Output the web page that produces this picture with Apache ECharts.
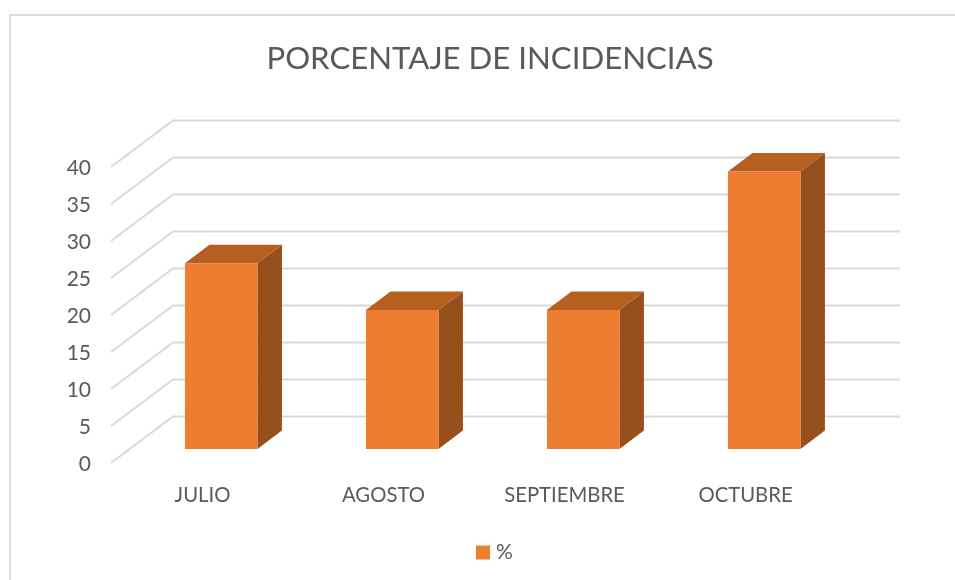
<!DOCTYPE html>
<html>
<head>
<meta charset="utf-8">
<style>
  html, body { margin: 0; padding: 0; background: #fff; }
  #chartmain { width: 955px; height: 580px; }
</style>
<script src="https://cdn.jsdelivr.net/npm/echarts@6/dist/echarts.min.js"></script>
</head>
<body>
<div id="chartmain"></div>
<script>
var categories = ['JULIO', 'AGOSTO', 'SEPTIEMBRE', 'OCTUBRE'];
var percentages = [25.1, 18.8, 18.8, 37.5];
var yTicks = [0, 5, 10, 15, 20, 25, 30, 35, 40];

// profundidad de la pared del fondo y de las barras (px)
var wallDx = 62, wallDy = -46.5;
var wallLeft = 111, wallRight = 900;
var barFrontDx = 18.7, barFrontDy = -14;
var barDepthDx = 24.5, barDepthDy = -18.5;
var barWidth = 72.5;

var textColor = '#595959';
var lineColor = '#d9d9d9';

var myChart = echarts.init(document.getElementById('chartmain'));

function renderWall(params, api) {
  var p = api.coord([0, api.value(1)]);
  return {
    type: 'polyline',
    shape: {
      points: [
        [wallLeft, p[1]],
        [wallLeft + wallDx, p[1] + wallDy],
        [wallRight, p[1] + wallDy]
      ]
    },
    style: { fill: 'none', stroke: lineColor, lineWidth: 2 },
    silent: true
  };
}

function renderBar(params, api) {
  var top = api.coord([api.value(0), api.value(1)]);
  var base = api.coord([api.value(0), 0]);
  var x0 = top[0] + barFrontDx - barWidth / 2;
  var x1 = x0 + barWidth;
  var y0 = top[1] + barFrontDy;
  var y1 = base[1] + barFrontDy;
  var dx = barDepthDx, dy = barDepthDy;
  return {
    type: 'group',
    children: [
      {
        type: 'polygon',
        shape: { points: [[x1, y0], [x1 + dx, y0 + dy], [x1 + dx, y1 + dy], [x1, y1]] },
        style: { fill: '#97501b' }
      },
      {
        type: 'polygon',
        shape: { points: [[x0, y0], [x0 + dx, y0 + dy], [x1 + dx, y0 + dy], [x1, y0]] },
        style: { fill: '#b55f21' }
      },
      {
        type: 'rect',
        shape: { x: x0, y: y0, width: barWidth, height: y1 - y0 },
        style: { fill: '#ed7d31' }
      }
    ]
  };
}

myChart.setOption({
  animation: false,
  backgroundColor: '#fff',
  title: {
    text: 'PORCENTAJE DE INCIDENCIAS',
    left: 485,
    top: 38,
    textAlign: 'center',
    textStyle: { color: textColor, fontFamily: 'Lato', fontWeight: 'normal', fontSize: 31.2 }
  },
  legend: {
    data: ['%'],
    left: 471,
    top: 537,
    itemWidth: 14,
    itemHeight: 14,
    itemGap: 6,
    icon: 'rect',
    textStyle: { color: textColor, fontFamily: 'Lato', fontSize: 21, padding: [0, 0, 0, 1] }
  },
  grid: { left: 112, right: 119, top: 167, bottom: 117 },
  xAxis: {
    type: 'category',
    data: categories,
    axisLine: { show: false },
    axisTick: { show: false },
    axisLabel: { color: textColor, fontFamily: 'Lato', fontSize: 20.3, margin: 22, interval: 0 }
  },
  yAxis: {
    type: 'value',
    min: 0,
    max: 40,
    interval: 5,
    axisLine: { show: false },
    axisTick: { show: false },
    splitLine: { show: false },
    axisLabel: {
      color: textColor,
      fontFamily: 'Lato',
      fontSize: 21,
      margin: 21,
      verticalAlign: 'top',
      lineHeight: 3
    }
  },
  graphic: [
    {
      type: 'polyline',
      silent: true,
      shape: { points: [[10, 580], [10, 15], [955, 15]] },
      style: { fill: 'none', stroke: '#dcdcdc', lineWidth: 2 }
    }
  ],
  series: [
    {
      name: 'pared',
      type: 'custom',
      z: 1,
      silent: true,
      clip: false,
      renderItem: renderWall,
      encode: { x: 0, y: 1 },
      data: yTicks.map(function (v) { return [0, v]; })
    },
    {
      name: '%',
      type: 'custom',
      z: 2,
      clip: false,
      itemStyle: { color: '#ed7d31' },
      renderItem: renderBar,
      encode: { x: 0, y: 1 },
      data: percentages.map(function (v, i) { return [i, v]; })
    }
  ]
});
</script>
</body>
</html>
